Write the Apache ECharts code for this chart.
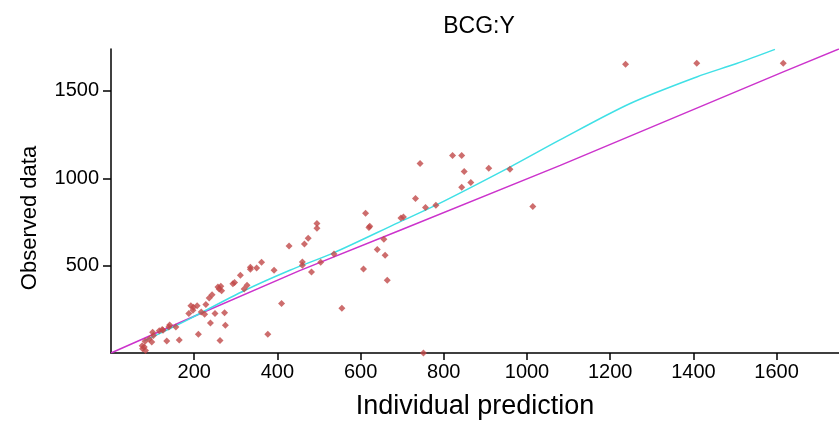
<!DOCTYPE html>
<html>
<head>
<meta charset="utf-8">
<script src="https://cdn.jsdelivr.net/npm/echarts@6/dist/echarts.min.js"></script>
<style>
html,body{margin:0;padding:0;background:#fff;}
#chart{width:839px;height:422px;}
</style>
</head>
<body>
<div id="chart"></div>
<script>
// Observed data vs individual prediction (x = prediction, y = observed)
var observations = [
  [75,42],[76,25],[83,15],[80,34],[82,67],[92,80],[98,63],[100,119],[102,100],[116,128],
  [123,134],[125,130],[134,69],[139,149],[141,160],[156,149],[164,74],[187,226],[192,271],[197,245],
  [198,262],[207,271],[210,107],[217,235],[225,222],[228,277],[236,315],[243,334],[239,172],[250,226],
  [257,378],[262,71],[264,382],[260,367],[266,357],[273,231],[275,159],[293,397],[297,403],[311,445],
  [320,367],[327,388],[335,491],[335,479],[350,487],[362,519],[377,107],[392,474],[410,283],[428,613],
  [460,521],[460,502],[465,624],[474,657],[482,464],[495,741],[495,714],[504,519],[536,567],[555,256],
  [607,481],[612,800],[620,718],[622,726],[640,592],[656,651],[659,560],[664,416],[697,773],[703,779],
  [732,884],[743,1085],[751,0],[756,833],[781,846],[821,1131],[843,1131],[849,1039],[843,949],[865,976],
  [908,1058],[959,1052],[1014,838],[1237,1652],[1408,1659],[1616,1659]
];
// Cyan trend curve
var trendCurve = [
  [80,70],[142,140],[190,197],[322,359],[430,474],[535,573],[692,748],[781,846],
  [959,1064],[1078,1218],[1248,1428],[1408,1580],[1504,1657],[1596,1738]
];
// Magenta identity-like line
var identityLine = [[0,0],[200,210],[452,470],[692,700],[1080,1074],[1616,1609],[1750,1740]];

var xTicks = [200,400,600,800,1000,1200,1400,1600];
var yTicks = [500,1000,1500];
var titleText = 'BCG:Y';
var xName = 'Individual prediction';
var yName = 'Observed data';

var chart = echarts.init(document.getElementById('chart'), null, {renderer:'canvas'});
var font = 'Liberation Sans, Arial, sans-serif';
chart.setOption({
  animation:false,
  backgroundColor:'#ffffff',
  title:{
    text:titleText, left:474, top:10, textAlign:'center',
    textStyle:{fontFamily:font, fontSize:23, fontWeight:'normal', color:'#000'}
  },
  graphic:[{
    type:'text', x:30, y:218, rotation:Math.PI/2,
    style:{text:yName, fontFamily:font, fontSize:22, fill:'#000',
      textAlign:'center', textVerticalAlign:'middle'}
  }],
  grid:{left:111, right:0, top:49, bottom:69, containLabel:false, outerBoundsMode:'none'},
  xAxis:{
    type:'value', min:0, max:1750, interval:200,
    name:xName, nameLocation:'middle', nameGap:40,
    nameTextStyle:{fontFamily:font, fontSize:27, color:'#000'},
    axisLine:{show:true, onZero:false, lineStyle:{color:'#000', width:1.5}},
    axisTick:{show:true, inside:false, length:7, lineStyle:{color:'#000', width:1.5},
      customValues: xTicks},
    axisLabel:{fontFamily:font, fontSize:20, color:'#000', margin:9,
      customValues: xTicks, formatter:function(v){return String(v);}},
    splitLine:{show:false}
  },
  yAxis:{
    type:'value', min:0, max:1740, interval:500,
    axisLine:{show:true, onZero:false, lineStyle:{color:'#000', width:1.5}},
    axisTick:{show:true, inside:false, length:8, lineStyle:{color:'#000', width:1.5},
      customValues: yTicks},
    axisLabel:{fontFamily:font, fontSize:20, color:'#000', margin:12,
      customValues: yTicks, formatter:function(v){return String(v);}},
    splitLine:{show:false}
  },
  series:[
    {type:'line', data:identityLine, showSymbol:false, symbol:'none',
      lineStyle:{color:'#cc33cc', width:1.5}, z:2},
    {type:'line', data:trendCurve, showSymbol:false, symbol:'none', smooth:0.3,
      lineStyle:{color:'#40e0e6', width:1.5}, z:3},
    {type:'scatter', data:observations, symbol:'diamond', symbolSize:7,
      itemStyle:{color:'#c04848'}, z:4}
  ]
});
</script>
</body>
</html>
